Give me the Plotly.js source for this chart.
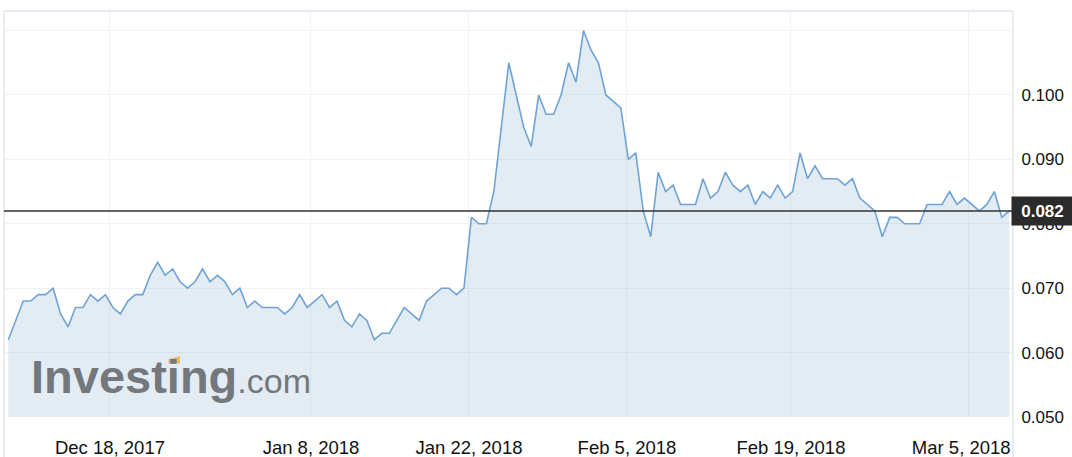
<!DOCTYPE html>
<html>
<head>
<meta charset="utf-8">
<script src="https://cdn.plot.ly/plotly-3.0.1.min.js"></script>
<style>
  html, body { margin: 0; padding: 0; background: #ffffff; }
  #chart { width: 1072px; height: 457px; }
</style>
</head>
<body>
<div id="chart"></div>
<script>
// Price series (one value per plotted point)
const prices = [
  0.062, 0.065, 0.068, 0.068, 0.069, 0.069, 0.070, 0.066, 0.064, 0.067,
  0.067, 0.069, 0.068, 0.069, 0.067, 0.066, 0.068, 0.069, 0.069, 0.072,
  0.074, 0.072, 0.073, 0.071, 0.070, 0.071, 0.073, 0.071, 0.072, 0.071,
  0.069, 0.070, 0.067, 0.068, 0.067, 0.067, 0.067, 0.066, 0.067, 0.069,
  0.067, 0.068, 0.069, 0.067, 0.068, 0.065, 0.064, 0.066, 0.065, 0.062,
  0.063, 0.063, 0.065, 0.067, 0.066, 0.065, 0.068, 0.069, 0.070, 0.070,
  0.069, 0.070, 0.081, 0.080, 0.080, 0.085, 0.095, 0.105, 0.100, 0.095,
  0.092, 0.100, 0.097, 0.097, 0.100, 0.105, 0.102, 0.110, 0.107, 0.105,
  0.100, 0.099, 0.098, 0.090, 0.091, 0.082, 0.078, 0.088, 0.085, 0.086,
  0.083, 0.083, 0.083, 0.087, 0.084, 0.085, 0.088, 0.086, 0.085, 0.086,
  0.083, 0.085, 0.084, 0.086, 0.084, 0.085, 0.091, 0.087, 0.089, 0.087,
  0.087, 0.087, 0.086, 0.087, 0.084, 0.083, 0.082, 0.078, 0.081, 0.081,
  0.080, 0.080, 0.080, 0.083, 0.083, 0.083, 0.085, 0.083, 0.084, 0.083,
  0.082, 0.083, 0.085, 0.081, 0.082
];
const pointIndex = prices.map((_, i) => i);

// X tick labels and where they fall along the point index
const xTickLabels = ["Dec 18, 2017", "Jan 8, 2018", "Jan 22, 2018", "Feb 5, 2018", "Feb 19, 2018", "Mar 5, 2018\u00a0\u00a0\u00a0"];
const xTickPositions = [13.61, 40.52, 61.67, 82.82, 104.77, 128.6];

// Y ticks
const yTickValues = [0.05, 0.06, 0.07, 0.08, 0.09, 0.10, 0.11];
const yTickLabels = ["0.050", "0.060", "0.070", "0.080", "0.090", "0.100", ""];

const lastPrice = prices[prices.length - 1];
const FONT = "'Liberation Sans', Arial, Helvetica, sans-serif";

const trace = {
  x: pointIndex,
  y: prices,
  type: "scatter",
  mode: "lines",
  line: { color: "#6fa3d5", width: 1.6 },
  fill: "tozeroy",
  fillcolor: "rgba(100,150,190,0.18)",
  hoverinfo: "skip"
};

const layout = {
  width: 1072,
  height: 457,
  margin: { l: 4, r: 59, t: 11, b: 40, pad: 0 },
  paper_bgcolor: "#ffffff",
  plot_bgcolor: "#ffffff",
  showlegend: false,
  xaxis: {
    range: [-0.576, 134.5],
    tickmode: "array",
    tickvals: xTickPositions,
    ticktext: xTickLabels,
    showgrid: true,
    gridcolor: "#f0f2f4",
    gridwidth: 1,
    zeroline: false,
    showline: false,
    ticks: "outside",
    ticklen: 14,
    tickcolor: "rgba(0,0,0,0)",
    tickfont: { family: FONT, size: 18.5, color: "#111111" },
    fixedrange: true
  },
  yaxis: {
    side: "right",
    range: [0.05, 0.11304],
    tickmode: "array",
    tickvals: yTickValues,
    ticktext: yTickLabels,
    showgrid: true,
    gridcolor: "#f0f2f4",
    gridwidth: 1,
    zeroline: false,
    showline: false,
    ticks: "outside",
    ticklen: 4,
    tickcolor: "rgba(0,0,0,0)",
    tickfont: { family: FONT, size: 17, color: "#111111" },
    fixedrange: true
  },
  shapes: [
    // frame
    { type: "line", xref: "paper", yref: "paper", x0: 0, x1: 1, y0: 1, y1: 1,
      line: { color: "#dfe4ec", width: 1.5 } },
    { type: "line", xref: "paper", yref: "paper", x0: 0, x1: 0, y0: -0.0985, y1: 1,
      line: { color: "#e2e6ed", width: 1.5 } },
    { type: "line", xref: "paper", yref: "paper", x0: 1, x1: 1, y0: -0.0985, y1: 1,
      line: { color: "#e2e6ed", width: 1.5 } },
    // last price line
    { type: "line", xref: "paper", yref: "y", x0: 0, x1: 1, y0: lastPrice, y1: lastPrice,
      line: { color: "#333333", width: 1.5 } },
    // orange accent of the watermark logo
    { type: "path", xref: "paper", yref: "paper",
      path: "M 0.1630 0.1420 L 0.1744 0.1500 L 0.1744 0.1320 L 0.1630 0.1320 Z",
      fillcolor: "#e9b86e", line: { width: 0 } }
  ],
  annotations: [
    {
      xref: "paper", yref: "paper",
      x: 0.0248, y: 0.0995, xanchor: "left", yanchor: "middle",
      text: "<b>Investing</b><span style='font-size:34px'>.com</span>",
      showarrow: false,
      font: { family: FONT, size: 47, color: "#74787d" }
    },
    {
      xref: "paper", yref: "y",
      x: 1, y: lastPrice, xanchor: "left", yanchor: "middle", xshift: -2,
      text: "<b>" + lastPrice.toFixed(3) + "</b>",
      showarrow: false,
      width: 61, height: 28, borderpad: 0,
      bgcolor: "#2b2b2b",
      font: { family: FONT, size: 17, color: "#ffffff" }
    }
  ]
};

Plotly.newPlot("chart", [trace], layout, { displayModeBar: false, staticPlot: true });
</script>
</body>
</html>
